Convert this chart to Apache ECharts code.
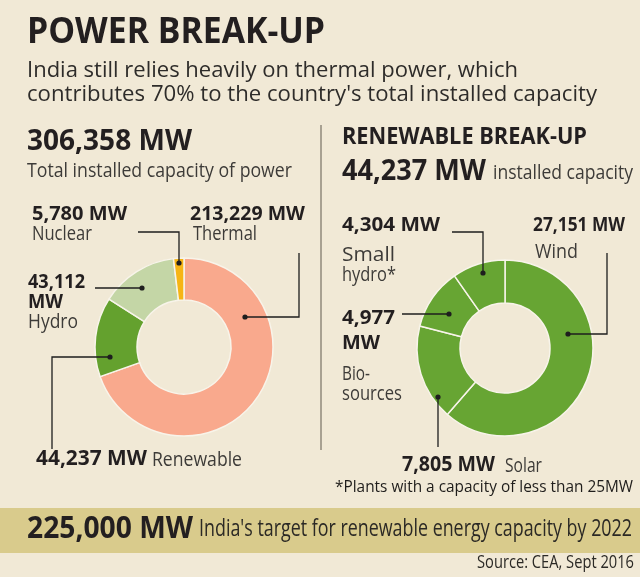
<!DOCTYPE html>
<html lang="en">
<head>
    <meta charset="UTF-8"/>
    <title>power break-up</title>
    <script src="https://cdn.jsdelivr.net/npm/echarts@6/dist/echarts.min.js"></script>
    <style>
        html, body { margin: 0; padding: 0; background: #f1e9d6; }
    </style>
</head>
<body>
<div id="main" style="width: 640px;height:577px;"></div>

<script type="text/javascript">
    // data
    var powerNames = ['Thermal', 'Renewable', 'Hydro', 'Nuclear'];
    var powerValues = [213229, 44237, 43112, 5780];
    var renewNames = ['Wind', 'Solar', 'Bio-sources', 'Small hydro'];
    var renewValues = [27151, 7805, 4977, 4304];

    var powerColors = ['#f9a98d', '#64a12e', '#c4d6a6', '#f6b515'];
    var renewColor = '#67a533';

    var FONT = '"Open Sans", "DejaVu Sans", sans-serif';
    var DARK = '#231f20';
    var GREY = '#3d3b38';

    var measureCtx = document.createElement('canvas').getContext('2d');

    function toData(names, values, colors) {
        var out = [];
        for (var i = 0; i < names.length; i++) {
            out.push({
                name: names[i],
                value: values[i],
                itemStyle: { color: Array.isArray(colors) ? colors[i] : colors }
            });
        }
        return out;
    }

    // text squeezed to the width it takes in the original (condensed face)
    function txt(x, y, text, size, bold, width, color, align) {
        var font = (bold ? 'bold ' : '') + size + 'px ' + FONT;
        measureCtx.font = font;
        var w = measureCtx.measureText(text).width;
        return {
            type: 'text',
            x: x,
            y: y,
            z: 100,
            scaleX: width ? width / w : 1,
            silent: true,
            style: {
                text: text,
                font: font,
                fill: color || (bold ? DARK : GREY),
                textAlign: align || 'left',
                textVerticalAlign: 'middle'
            }
        };
    }

    // leader line with a dot at the slice end
    function leader(points, dot) {
        return [
            {
                type: 'polyline',
                silent: true,
                z: 100,
                shape: { points: points },
                style: { stroke: '#1e1e1e', lineWidth: 1.3, fill: null }
            },
            {
                type: 'circle',
                silent: true,
                z: 101,
                shape: { cx: dot[0], cy: dot[1], r: 2.6 },
                style: { fill: '#1e1e1e' }
            }
        ];
    }

    var myChart = echarts.init(document.getElementById('main'));

    var graphics = [
        // banner
        {
            type: 'rect', silent: true, z: -1,
            shape: { x: 0, y: 508, width: 640, height: 45 },
            style: { fill: '#d9cb8c' }
        },
        // divider
        {
            type: 'line', silent: true,
            shape: { x1: 321, y1: 125, x2: 321, y2: 450 },
            style: { stroke: '#8f897b', lineWidth: 1.5 }
        },
        txt(27, 33, 'POWER BREAK-UP', 36, true, 298),
        txt(27, 71, 'India still relies heavily on thermal power, which', 22, false, 491, '#2e2c2a'),
        txt(27, 95, 'contributes 70% to the country\'s total installed capacity', 22, false, 570, '#2e2c2a'),

        txt(27, 142, '306,358 MW', 28, true, 165),
        txt(27, 171, 'Total installed capacity of power', 20, false, 265),
        txt(32, 214, '5,780 MW', 20, true, 95),
        txt(32, 234, 'Nuclear', 20, false, 60),
        txt(190, 214, '213,229 MW', 20, true, 115),
        txt(193, 234, 'Thermal', 20, false, 64),
        txt(28, 282, '43,112', 20, true, 57),
        txt(28, 302, 'MW', 20, true, 35),
        txt(28, 322, 'Hydro', 20, false, 50),
        txt(36, 459, '44,237 MW', 21, true, 111),
        txt(152, 460, 'Renewable', 20, false, 90),

        txt(342, 137, 'RENEWABLE BREAK-UP', 23, true, 245),
        txt(342, 172, '44,237 MW', 28, true, 144),
        txt(493, 173, 'installed capacity', 20, false, 140),
        txt(342, 225, '4,304 MW', 20, true, 98),
        txt(342, 255, 'Small', 20, false, 53),
        txt(342, 275, 'hydro*', 20, false, 54),
        txt(533, 225, '27,151 MW', 20, true, 92),
        txt(535, 252, 'Wind', 20, false, 43),
        txt(342, 318, '4,977', 20, true, 53),
        txt(342, 343, 'MW', 20, true, 38),
        txt(342, 374, 'Bio-', 20, false, 28),
        txt(342, 394, 'sources', 20, false, 60),
        txt(402, 465, '7,805 MW', 21, true, 93),
        txt(505, 466, 'Solar', 20, false, 37),
        txt(335, 487, '*Plants with a capacity of less than 25MW', 17, false, 298, '#1f1d1b'),

        txt(27, 529, '225,000 MW', 31, true, 166),
        txt(199, 529, 'India\'s target for renewable energy capacity by 2022', 23, false, 433, '#2b2925'),
        txt(634, 563, 'Source: CEA, Sept 2016', 18, false, 157, '#2b2925', 'right')
    ];

    graphics = graphics
        .concat(leader([[138, 232], [179, 232], [179, 263]], [179, 263]))
        .concat(leader([[299, 253], [299, 317], [245, 317]], [245, 317]))
        .concat(leader([[95, 288], [142, 288]], [142, 288]))
        .concat(leader([[52, 449], [52, 357], [110, 357]], [110, 357]))
        .concat(leader([[452, 232], [483, 232], [483, 273]], [483, 273]))
        .concat(leader([[607, 253], [607, 334], [568, 334]], [568, 334]))
        .concat(leader([[402, 314], [449, 314]], [449, 314]))
        .concat(leader([[438, 447], [438, 397]], [438, 397]));

    var option = {
        backgroundColor: '#f1e9d6',
        animation: false,
        tooltip: { show: false },
        series: [
            {
                name: 'Power',
                type: 'pie',
                center: [184, 347],
                radius: [47, 89],
                startAngle: 90,
                clockwise: true,
                label: { show: false },
                labelLine: { show: false },
                emphasis: { disabled: true },
                itemStyle: { borderColor: '#f8f4ea', borderWidth: 1.5 },
                data: toData(powerNames, powerValues, powerColors)
            },
            {
                name: 'Renewable',
                type: 'pie',
                center: [505, 348],
                radius: [45, 88],
                startAngle: 90,
                clockwise: true,
                label: { show: false },
                labelLine: { show: false },
                emphasis: { disabled: true },
                itemStyle: { borderColor: '#f8f4ea', borderWidth: 1.5 },
                data: toData(renewNames, renewValues, renewColor)
            }
        ],
        graphic: { elements: graphics }
    };

    myChart.setOption(option);
</script>
</body>
</html>
